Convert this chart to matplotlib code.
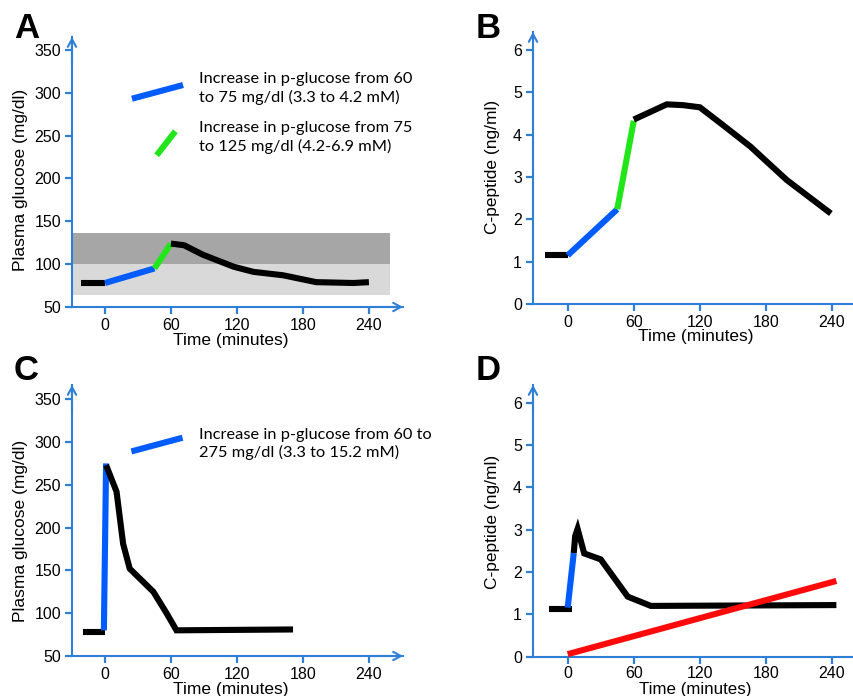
import matplotlib
matplotlib.use("Agg")
import matplotlib.pyplot as plt

plt.rcParams['font.family'] = ['Liberation Sans', 'DejaVu Sans']

# ---------------- data ----------------
xticks = [0, 60, 120, 180, 240]
glu_yticks = [50, 100, 150, 200, 250, 300, 350]
cp_yticks = [0, 1, 2, 3, 4, 5, 6]

# Panel A (plasma glucose, clamp)
a_base_x = [-22, 0]
a_base_y = [78, 78]
a_blue_x = [0, 45]
a_blue_y = [78, 95]
a_green_x = [45, 60]
a_green_y = [95, 124]
a_black_x = [60, 72, 89, 117, 135, 162, 192, 226, 240]
a_black_y = [124, 122, 111, 97, 91, 87, 79, 78, 79]
a_band_dark = (100, 136)
a_band_light = (64, 100)
a_band_x = (-30, 259)
a_leg_blue_x = [24.5, 71]
a_leg_blue_y = [293, 309]
a_leg_green_x = [47, 64]
a_leg_green_y = [227, 255]
a_leg_text1 = "Increase in p-glucose from 60\nto 75 mg/dl (3.3 to 4.2 mM)"
a_leg_text2 = "Increase in p-glucose from 75\nto 125 mg/dl (4.2-6.9 mM)"

# Panel B (C-peptide, clamp)
b_base_x = [-21, 0]
b_base_y = [1.15, 1.15]
b_blue_x = [0, 45]
b_blue_y = [1.15, 2.24]
b_green_x = [45, 60]
b_green_y = [2.24, 4.33]
b_black_x = [60, 90, 105, 120, 141, 166, 181, 199, 239]
b_black_y = [4.36, 4.72, 4.70, 4.65, 4.23, 3.72, 3.36, 2.93, 2.14]

# Panel C (plasma glucose, OGTT-like)
c_base_x = [-20, 0]
c_base_y = [78, 78]
c_blue_x = [-1, 1]
c_blue_y = [80, 275]
c_black_x = [1, 10.5, 16.5, 22.5, 44, 56, 65, 171]
c_black_y = [273, 242, 181, 152, 125, 100, 80, 81]
c_leg_blue_x = [24, 70.5]
c_leg_blue_y = [289, 305]
c_leg_text = "Increase in p-glucose from 60 to\n275 mg/dl (3.3 to 15.2 mM)"

# Panel D (C-peptide)
d_base_x = [-17, 3.5]
d_base_y = [1.12, 1.12]
d_blue_x = [0, 5.5]
d_blue_y = [1.16, 2.45]
d_black_x = [5.5, 6.8, 9, 15, 30, 54.5, 75.5, 244]
d_black_y = [2.45, 2.85, 3.02, 2.44, 2.3, 1.42, 1.2, 1.22]
d_red_x = [0, 244]
d_red_y = [0.06, 1.79]

# ---------------- style ----------------
AXC = '#2E7FD5'
BLUE = '#005CFF'
GREEN = '#22E61A'
RED = '#FF0A0A'
BLACK = '#000000'
LW = 4.4
LEGFONT = ['Lato', 'DejaVu Sans']
LEGSIZE = 11.8

fig = plt.figure(figsize=(8.54, 6.96), dpi=100)


def make_axes(rect, xlim, ylim, yticks, xarrow=True, xpad=3):
    ax = fig.add_axes(rect)
    ax.set_xlim(*xlim)
    ax.set_ylim(*ylim)
    ax.set_xticks(xticks)
    ax.set_yticks(yticks)
    ax.patch.set_alpha(0)
    for s in ['top', 'right']:
        ax.spines[s].set_visible(False)
    for s in ['left', 'bottom']:
        ax.spines[s].set_color(AXC)
        ax.spines[s].set_linewidth(1.5)
    ax.tick_params(axis='both', colors=AXC, labelcolor='black', width=1.6,
                   length=5, labelsize=11.5, pad=3)
    ax.tick_params(axis='x', pad=xpad)
    ap = dict(arrowstyle='->,head_length=0.55,head_width=0.3', color=AXC,
              lw=1.5, shrinkA=0, shrinkB=0)
    ax.annotate('', xy=(0, 1), xytext=(0, 0.9), xycoords='axes fraction',
                textcoords='axes fraction', arrowprops=ap, annotation_clip=False)
    if xarrow:
        ax.annotate('', xy=(1, 0), xytext=(0.9, 0), xycoords='axes fraction',
                    textcoords='axes fraction', arrowprops=ap, annotation_clip=False)
    return ax


def seg(ax, x, y, color, z=3):
    ax.plot(x, y, color=color, lw=LW, solid_capstyle='butt',
            solid_joinstyle='miter', zorder=z, clip_on=False)


def labels(ax, ylab, ypos, xpos, xsize=12.5):
    ax.text(xpos[0], xpos[1], 'Time (minutes)', transform=ax.transAxes,
            ha='center', va='center', fontsize=xsize)
    ax.text(ypos[0], ypos[1], ylab, transform=ax.transAxes, rotation=90,
            ha='center', va='center', fontsize=12.5)


# Panel A
axA = make_axes([72 / 854, 1 - 307 / 696, 331 / 854, 270 / 696],
                (-30, 271), (50, 365), glu_yticks)
axA.fill_between(a_band_x, a_band_light[0], a_band_light[1], color='#D9D9D9',
                 lw=0, zorder=1)
axA.fill_between(a_band_x, a_band_dark[0], a_band_dark[1], color='#A6A6A6',
                 lw=0, zorder=1)
seg(axA, a_base_x, a_base_y, BLACK)
seg(axA, a_blue_x, a_blue_y, BLUE)
seg(axA, a_green_x, a_green_y, GREEN)
seg(axA, a_black_x, a_black_y, BLACK)
seg(axA, a_leg_blue_x, a_leg_blue_y, BLUE)
seg(axA, a_leg_green_x, a_leg_green_y, GREEN)
axA.text(85.5, 305, a_leg_text1, fontsize=LEGSIZE, family=LEGFONT,
         ha='left', va='center', linespacing=1.3)
axA.text(85.5, 247.5, a_leg_text2, fontsize=LEGSIZE, family=LEGFONT,
         ha='left', va='center', linespacing=1.3)
labels(axA, 'Plasma glucose (mg/dl)', (-0.157, 0.47), (0.48, -0.124))

# Panel B
axB = make_axes([533 / 854, 1 - 304 / 696, 321 / 854, 272 / 696],
                (-31.5, 260), (0, 6.43), cp_yticks, xarrow=False)
seg(axB, b_base_x, b_base_y, BLACK)
seg(axB, b_blue_x, b_blue_y, BLUE)
seg(axB, b_green_x, b_green_y, GREEN)
seg(axB, b_black_x, b_black_y, BLACK)
labels(axB, 'C-peptide (ng/ml)', (-0.125, 0.504), (0.506, -0.12))

# Panel C
axC = make_axes([72 / 854, 1 - 656 / 696, 331 / 854, 271 / 696],
                (-30, 271), (50, 366.6), glu_yticks)
seg(axC, c_base_x, c_base_y, BLACK)
seg(axC, c_blue_x, c_blue_y, BLUE)
seg(axC, c_black_x, c_black_y, BLACK)
seg(axC, c_leg_blue_x, c_leg_blue_y, BLUE)
axC.text(85.5, 297.5, c_leg_text, fontsize=LEGSIZE, family=LEGFONT,
         ha='left', va='center', linespacing=1.3)
labels(axC, 'Plasma glucose (mg/dl)', (-0.157, 0.462), (0.48, -0.122))

# Panel D
axD = make_axes([533 / 854, 1 - 656.7 / 696, 321 / 854, 271.7 / 696],
                (-31.5, 260), (0, 6.42), cp_yticks, xarrow=False, xpad=1.5)
seg(axD, d_base_x, d_base_y, BLACK)
seg(axD, d_blue_x, d_blue_y, BLUE)
seg(axD, d_black_x, d_black_y, BLACK)
seg(axD, d_red_x, d_red_y, RED, z=4)
labels(axD, 'C-peptide (ng/ml)', (-0.125, 0.497), (0.506, -0.119), xsize=12.2)

# Panel letters
for lab, x, y in [('A', 14, 28), ('B', 476, 28), ('C', 14, 371), ('D', 476, 371)]:
    fig.text(x / 854, 1 - y / 696, lab, fontsize=25, fontweight='bold',
             ha='left', va='center')

fig.savefig('out.png', dpi=100)
